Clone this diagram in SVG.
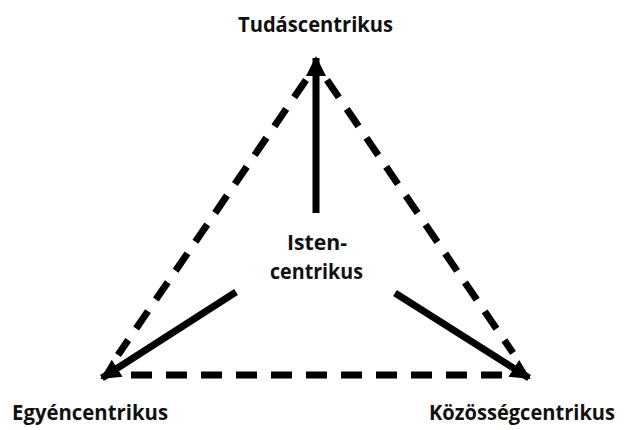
<svg xmlns="http://www.w3.org/2000/svg" width="624" height="430" viewBox="0 0 624 430">
<style>
.lbl{font-family:"Open Sans","Noto Sans","Liberation Sans",sans-serif;font-weight:700;font-size:22px;fill:#111;}
.dash{stroke:#000;stroke-width:7;stroke-dasharray:21 14;fill:none;}
.solid{stroke:#000;stroke-width:7;fill:none;}
.head{fill:#000;}
</style>
<defs>
<marker id="arr" markerUnits="userSpaceOnUse" markerWidth="24" markerHeight="24" viewBox="0 0 24 24" refX="20" refY="12" orient="auto">
<path class="head" d="M2,2 L22,12 L2,22 Z"/>
</marker>
</defs>
<g id="nodes">
<g id="tudas"><text class="lbl" x="238" y="32" textLength="155" lengthAdjust="spacingAndGlyphs">Tudáscentrikus</text></g>
<g id="isten"><text class="lbl" x="287" y="250" textLength="60" lengthAdjust="spacingAndGlyphs">Isten-</text><text class="lbl" x="270" y="279" textLength="93" lengthAdjust="spacingAndGlyphs">centrikus</text></g>
<g id="egyen"><text class="lbl" x="12" y="420" textLength="156" lengthAdjust="spacingAndGlyphs">Egyéncentrikus</text></g>
<g id="kozosseg"><text class="lbl" x="429" y="420" textLength="186" lengthAdjust="spacingAndGlyphs" style="font-size:21px">Közösségcentrikus</text></g>
</g>
<g id="connectors">
<line class="dash" x1="306" y1="80" x2="118" y2="355"/>
<line class="dash" x1="327" y1="80" x2="513" y2="353"/>
<line class="dash" x1="131" y1="375" x2="502" y2="375"/>
<line class="solid" x1="316" y1="213" x2="316" y2="58" marker-end="url(#arr)"/>
<line class="solid" x1="236" y1="292" x2="102" y2="378" marker-end="url(#arr)"/>
<line class="solid" x1="395" y1="293" x2="529" y2="378" marker-end="url(#arr)"/>
</g>
</svg>
